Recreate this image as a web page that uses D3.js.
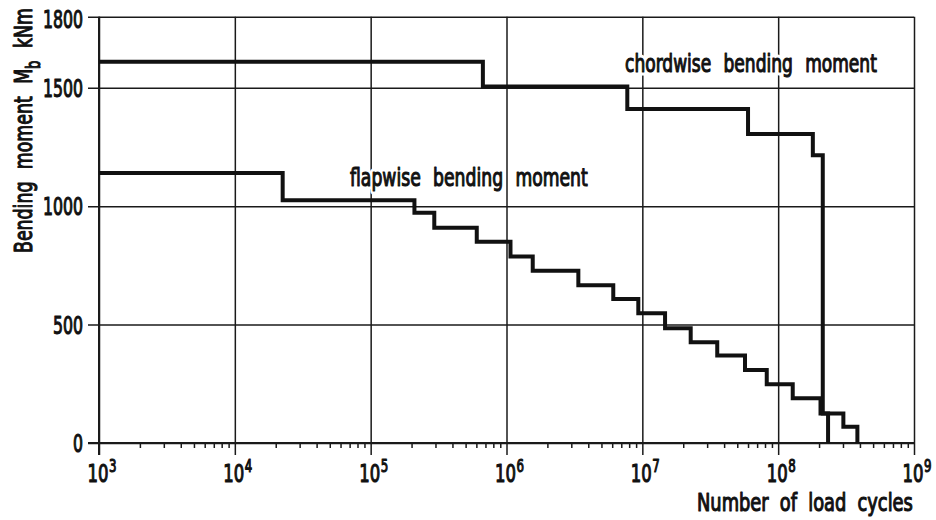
<!DOCTYPE html>
<html><head><meta charset="utf-8">
<script src="https://cdn.jsdelivr.net/npm/d3@7"></script>
<style>
body{margin:0;background:#fff}
svg text{font-family:"DejaVu Sans Condensed","DejaVu Sans",sans-serif;fill:#111}
</style></head><body>
<svg id="chart" width="936" height="520"></svg>
<script>
// Load spectra of the blade root bending moment (step functions, cumulative cycles)
const chordCycles = [1e3, 6.7e5, 7.75e6, 6.0e7, 1.80e8, 2.13e8, 2.33e8];
const chordMoments = [1610, 1505, 1410, 1305, 1215, 125, 0];
const flapCycles = [1e3, 2.25e4, 2.1e5, 2.94e5, 6.04e5, 1.07e6, 1.56e6, 3.38e6, 6.11e6, 9.34e6,
  1.47e7, 2.27e7, 3.56e7, 5.70e7, 8.24e7, 1.28e8, 2.05e8, 3.02e8, 3.83e8];
const flapMoments = [1140, 1025, 972, 909, 850, 787, 727, 666, 608, 548,
  484, 425, 369, 308, 248, 189, 125, 69, 0];
const yTicks = [0, 500, 1000, 1500, 1800];
const xExponents = [3, 4, 5, 6, 7, 8, 9];
const seriesLabels = ["chordwise bending moment", "flapwise bending moment"];
const yTitle = ["Bending moment M", "b", " kNm"];
const xTitle = "Number of load cycles";

const svg = d3.select("#chart");
const pL = 99, pR = 914, pT = 16.7, pB = 443;

const x = d3.scaleLog().domain([1e3, 1e9]).range([pL, pR]);
const y = d3.scaleLinear().domain([0, 1800]).range([pB, pT]);

const majors = xExponents.map(e => Math.pow(10, e));
const minors = [];
for (let e = 3; e < 9; e++) for (let k = 2; k <= 9; k++) minors.push(k * Math.pow(10, e));

const ink = "#1a1a1a";

// Narrow lettering: the text is laid out, measured, then squeezed to the given width.
function label(parent, opt, build) {
  const outer = parent.append("g")
    .attr("transform", `translate(${opt.x},${opt.y}) rotate(${opt.rotate || 0})`);
  const inner = outer.append("g");
  (opt.halo ? ["halo", "ink"] : ["ink"]).forEach(layer => {
    const t = inner.append("text").attr("font-size", opt.size || 25)
      .attr("word-spacing", opt.ws || 0);
    build(t);
    if (layer === "halo") t.attr("fill", "#fff").attr("stroke", "#fff").attr("stroke-width", 7).attr("stroke-linejoin", "round");
    else t.attr("stroke", "#111").attr("stroke-width", 1.1).attr("stroke-linejoin", "round");
  });
  const bb = inner.node().getBBox();
  const s = opt.width / bb.width;
  const dx = opt.anchor === "end" ? -bb.x - bb.width : (opt.anchor === "middle" ? -bb.x - bb.width / 2 : -bb.x);
  inner.attr("transform", `scale(${s},1) translate(${dx},0)`);
  return outer;
}

// vertical grid at each decade, extended as major ticks below the axis
svg.append("g")
  .attr("transform", `translate(0,${pB})`)
  .call(d3.axisBottom(x).tickValues(majors).tickSize(-(pB - pT)).tickSizeOuter(0).tickFormat(""))
  .call(g => g.select(".domain").remove())
  .call(g => g.selectAll("line").attr("stroke", ink).attr("stroke-width", 1.5).attr("y1", 12));

// minor ticks
svg.append("g")
  .attr("transform", `translate(0,${pB})`)
  .call(d3.axisBottom(x).tickValues(minors).tickSize(5).tickSizeOuter(0).tickFormat(""))
  .call(g => g.select(".domain").remove())
  .call(g => g.selectAll("line").attr("stroke", ink).attr("stroke-width", 1.5));

// horizontal grid, ticks extending left of the axis
svg.append("g")
  .attr("transform", `translate(${pL - 11},0)`)
  .call(d3.axisRight(y).tickValues(yTicks).tickSize(pR - pL + 11).tickSizeOuter(0).tickFormat(""))
  .call(g => g.select(".domain").remove())
  .call(g => g.selectAll("line").attr("stroke", ink).attr("stroke-width", 1.5));

// axis lines
svg.append("line").attr("x1", pL).attr("x2", pL).attr("y1", pT).attr("y2", pB + 12)
  .attr("stroke", ink).attr("stroke-width", 2);
svg.append("line").attr("x1", pL - 11).attr("x2", pR).attr("y1", pB).attr("y2", pB)
  .attr("stroke", ink).attr("stroke-width", 2);

// y tick labels
const yLab = svg.append("g");
yTicks.forEach(v => {
  label(yLab, { x: 83, y: y(v) + (v === 1800 ? 11 : 9), width: 10 * String(v).length, anchor: "end" },
    t => t.text(v));
});

// x tick labels: 10 with superscript exponent
const xLab = svg.append("g");
xExponents.forEach(e => {
  const cx = x(Math.pow(10, e));
  label(xLab, { x: cx - 11.5, y: 482, width: 21 }, t => t.text("10"));
  label(xLab, { x: cx + 10, y: 472, width: 7.5, size: 18 }, t => t.text(e));
});

// step curves
const step = d3.line().x(d => x(d[0])).y(d => y(d[1])).curve(d3.curveStepAfter);
const series = [d3.zip(chordCycles, chordMoments), d3.zip(flapCycles, flapMoments)];
svg.append("g").selectAll("path").data(series).join("path")
  .attr("d", step).attr("fill", "none").attr("stroke", "#111")
  .attr("stroke-width", 4).attr("stroke-linejoin", "miter");

// axis titles
label(svg, { x: 913, y: 511, width: 216, anchor: "end", ws: 7 }, t => t.text(xTitle));
label(svg, { x: 32, y: 253, rotate: -90, width: 245, ws: 9 }, t => {
  t.append("tspan").text(yTitle[0]);
  t.append("tspan").attr("dy", 8).attr("font-size", 19).text(yTitle[1]);
  t.append("tspan").attr("dy", -8).text(yTitle[2]);
});

// curve labels
label(svg, { x: 625, y: 72, width: 252, ws: 9, halo: true }, t => t.text(seriesLabels[0]));
label(svg, { x: 350, y: 186, width: 238, ws: 9, halo: true }, t => t.text(seriesLabels[1]));
</script>
</body></html>
